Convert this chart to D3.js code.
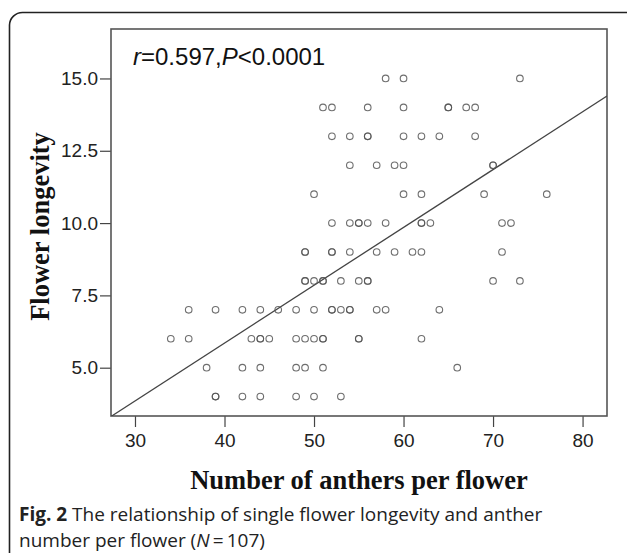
<!DOCTYPE html>
<html>
<head>
<meta charset="utf-8">
<script src="https://cdn.jsdelivr.net/npm/d3@7"></script>
<style>
  body { margin: 0; background: #fff; }
</style>
</head>
<body>
<svg id="chart" width="627" height="559" viewBox="0 0 627 559"></svg>
<script>
// anther count per flower, read row by row (longevity 15 down to 4)
const anthers = [
  58, 60, 73,
  51, 52, 56, 60, 65, 65, 67, 68,
  52, 54, 56, 56, 60, 62, 64, 68,
  54, 57, 59, 60, 70, 70,
  50, 60, 62, 69, 76,
  52, 54, 55, 55, 56, 58, 62, 62, 63, 71, 72,
  49, 49, 52, 52, 54, 57, 59, 61, 62, 71,
  49, 49, 50, 51, 51, 53, 55, 56, 56, 70, 73,
  36, 39, 42, 44, 46, 48, 50, 52, 52, 53, 54, 54, 57, 58, 64,
  34, 36, 43, 44, 44, 45, 48, 49, 50, 51, 51, 55, 55, 62,
  38, 42, 44, 48, 49, 51, 66,
  39, 39, 42, 44, 48, 50, 53
];
const longevity = [
  15, 15, 15,
  14, 14, 14, 14, 14, 14, 14, 14,
  13, 13, 13, 13, 13, 13, 13, 13,
  12, 12, 12, 12, 12, 12,
  11, 11, 11, 11, 11,
  10, 10, 10, 10, 10, 10, 10, 10, 10, 10, 10,
  9, 9, 9, 9, 9, 9, 9, 9, 9, 9,
  8, 8, 8, 8, 8, 8, 8, 8, 8, 8, 8,
  7, 7, 7, 7, 7, 7, 7, 7, 7, 7, 7, 7, 7, 7, 7,
  6, 6, 6, 6, 6, 6, 6, 6, 6, 6, 6, 6, 6, 6,
  5, 5, 5, 5, 5, 5, 5,
  4, 4, 4, 4, 4, 4, 4
];
const xTicks = [30, 40, 50, 60, 70, 80];
const yTicks = [5, 7.5, 10, 12.5, 15];
const fit = [-2.15, 0.2]; // intercept, slope of the fitted line

const svg = d3.select("#chart");
const data = anthers.map((a, i) => ({ a, l: longevity[i] }));

// card border, only top and left edges visible
svg.append("path")
  .attr("d", "M9.5,553 V25 A13,13 0 0 1 22.5,12.5 H640")
  .attr("fill", "none")
  .attr("stroke", "#222")
  .attr("stroke-width", 1.6);

const plot = { left: 111, right: 607, top: 29, bottom: 416 };

const x = d3.scaleLinear()
  .domain([27.32, 82.73])
  .range([plot.left, plot.right]);

const y = d3.scaleLinear()
  .domain([3.33, 16.71])
  .range([plot.bottom, plot.top]);

svg.append("clipPath").attr("id", "clip")
  .append("rect")
  .attr("x", plot.left).attr("y", plot.top)
  .attr("width", plot.right - plot.left)
  .attr("height", plot.bottom - plot.top);

const tickFont = "Liberation Sans, Arial";

// axes
svg.append("g")
  .attr("transform", `translate(${plot.left},0)`)
  .call(d3.axisLeft(y).tickValues(yTicks).tickFormat(d3.format(".1f")).tickSize(11).tickPadding(2))
  .call(g => g.select(".domain").remove())
  .call(g => g.selectAll(".tick line").attr("stroke", "#444").attr("stroke-width", 1.2))
  .call(g => g.selectAll("text").attr("fill", "#222").attr("font-size", 19).attr("font-family", tickFont));

svg.append("g")
  .attr("transform", `translate(0,${plot.bottom})`)
  .call(d3.axisBottom(x).tickValues(xTicks).tickSize(11).tickPadding(7))
  .call(g => g.select(".domain").remove())
  .call(g => g.selectAll(".tick line").attr("stroke", "#444").attr("stroke-width", 1.2))
  .call(g => g.selectAll("text").attr("fill", "#222").attr("font-size", 19).attr("font-family", tickFont));

// frame
svg.append("rect")
  .attr("x", plot.left).attr("y", plot.top)
  .attr("width", plot.right - plot.left)
  .attr("height", plot.bottom - plot.top)
  .attr("fill", "none")
  .attr("stroke", "#555")
  .attr("stroke-width", 1.6);

// fitted line
const xd = x.domain();
svg.append("line")
  .attr("clip-path", "url(#clip)")
  .attr("x1", x(xd[0])).attr("y1", y(fit[0] + fit[1] * xd[0]))
  .attr("x2", x(xd[1])).attr("y2", y(fit[0] + fit[1] * xd[1]))
  .attr("stroke", "#444")
  .attr("stroke-width", 1.3);

// points
svg.append("g")
  .selectAll("circle")
  .data(data)
  .join("circle")
  .attr("cx", d => x(d.a))
  .attr("cy", d => y(d.l))
  .attr("r", 3.3)
  .attr("fill", "none")
  .attr("stroke", "#555")
  .attr("stroke-opacity", 0.85)
  .attr("stroke-width", 1.1);

// statistics label
const stat = svg.append("text")
  .attr("x", 133)
  .attr("y", 65)
  .attr("font-family", "Liberation Sans, Arial")
  .attr("font-size", 24)
  .attr("fill", "#111");
stat.append("tspan").attr("font-style", "italic").text("r");
stat.append("tspan").text("=0.597,");
stat.append("tspan").attr("font-style", "italic").text("P");
stat.append("tspan").text("<0.0001");

// axis titles
svg.append("text")
  .attr("x", (plot.left + plot.right) / 2)
  .attr("y", 489)
  .attr("text-anchor", "middle")
  .attr("font-family", "Liberation Serif, Times New Roman")
  .attr("font-weight", "bold")
  .attr("font-size", 26.5)
  .attr("fill", "#111")
  .text("Number of anthers per flower");

svg.append("text")
  .attr("transform", `translate(49,${(plot.top + plot.bottom) / 2 + 4}) rotate(-90)`)
  .attr("text-anchor", "middle")
  .attr("font-family", "Liberation Serif, Times New Roman")
  .attr("font-weight", "bold")
  .attr("font-size", 26.5)
  .attr("fill", "#111")
  .text("Flower longevity");

// caption
const capFont = "Open Sans, Noto Sans";
const cap1 = svg.append("text")
  .attr("x", 19).attr("y", 521)
  .attr("font-family", capFont)
  .attr("font-size", 19)
  .attr("fill", "#222");
cap1.append("tspan").attr("font-weight", "bold").text("Fig. 2");
cap1.append("tspan").text(" The relationship of single flower longevity and anther");

const cap2 = svg.append("text")
  .attr("x", 19).attr("y", 547)
  .attr("font-family", capFont)
  .attr("font-size", 19)
  .attr("fill", "#222");
cap2.append("tspan").text("number per flower (");
cap2.append("tspan").attr("font-style", "italic").text("N");
cap2.append("tspan").text("\u2009=\u2009107)");
</script>
</body>
</html>
